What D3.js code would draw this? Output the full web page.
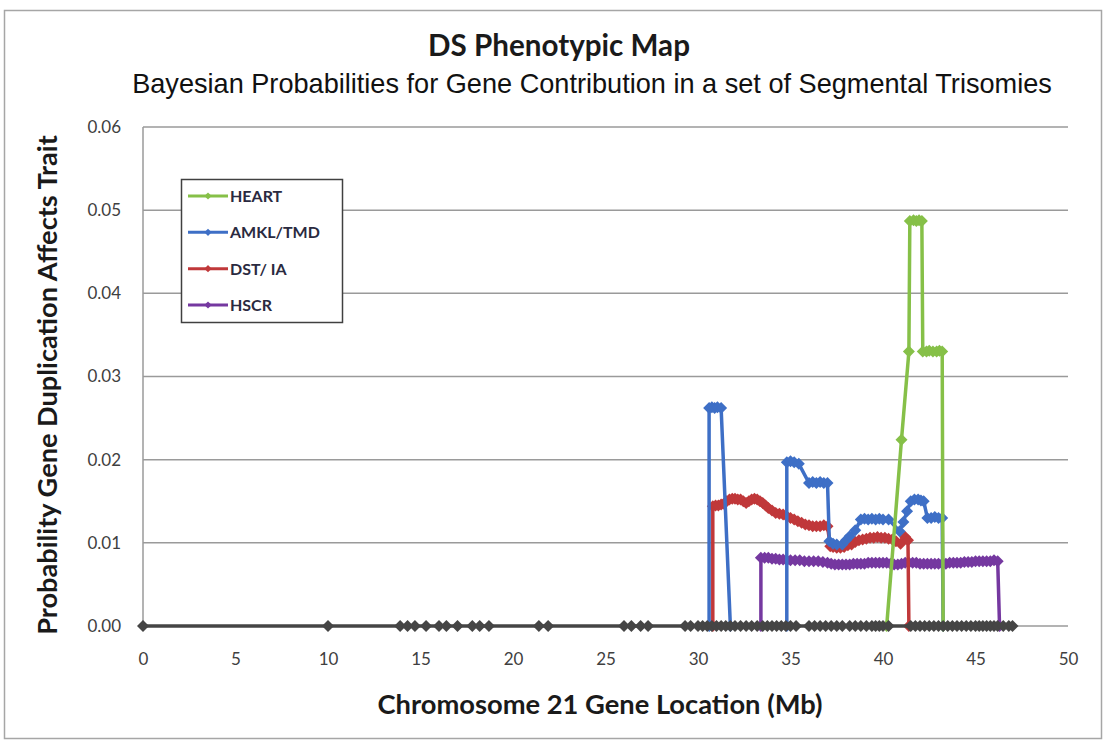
<!DOCTYPE html>
<html>
<head>
<meta charset="utf-8">
<script src="https://cdn.jsdelivr.net/npm/d3@7"></script>
<style>
  html, body { margin: 0; padding: 0; background: #fff; }
  svg { display: block; }
</style>
</head>
<body>
<svg id="chart" width="1103" height="742"></svg>
<script>
// ---------- DATA ----------
const xTicks = [0, 5, 10, 15, 20, 25, 30, 35, 40, 45, 50];
const yTicks = [0, 0.01, 0.02, 0.03, 0.04, 0.05, 0.06];
const seriesNames = ["HEART", "AMKL/TMD", "DST/ IA", "HSCR"];

const heartX = [40.2, 41.0, 41.4, 41.45, 41.65, 41.8, 41.95, 42.1, 42.15, 42.35, 42.5, 42.7, 42.9, 43.05, 43.2, 43.25];
const heartY = [0, 0.0224, 0.033, 0.0487, 0.0488, 0.0487, 0.0488, 0.0487, 0.033, 0.033, 0.0331, 0.033, 0.033, 0.0331, 0.033, 0];

const amklX = [30.6, 30.6, 30.75, 30.9, 31.05, 31.25, 31.75, 34.8, 34.8, 35.0, 35.2, 35.45, 36.0, 36.2, 36.4, 36.6, 36.8, 37.0, 37.1, 37.3, 37.5, 37.8, 38.0, 38.2, 38.5, 38.8, 39.0, 39.2, 39.4, 39.6, 39.8, 40.0, 40.3, 40.9, 41.1, 41.3, 41.5, 41.7, 41.9, 42.05, 42.2, 42.4, 42.6, 42.8, 43.0, 43.2, 43.25];
const amklY = [0, 0.0262, 0.0263, 0.0262, 0.0263, 0.0262, 0, 0, 0.0197, 0.0198, 0.0197, 0.0195, 0.0172, 0.0173, 0.0172, 0.0173, 0.0172, 0.0172, 0.0102, 0.0099, 0.0098, 0.0098, 0.0103, 0.0108, 0.0115, 0.0128, 0.0129, 0.0128, 0.0129, 0.0128, 0.0129, 0.0128, 0.0128, 0.0114, 0.0125, 0.0138, 0.015, 0.0152, 0.0152, 0.0151, 0.015, 0.013, 0.013, 0.0131, 0.013, 0.013, 0];

const dstX = [30.8, 30.8, 30.95, 31.1, 31.25, 31.4, 31.55, 31.7, 31.85, 32.0, 32.15, 32.3, 32.45, 32.6, 32.75, 32.9, 33.05, 33.2, 33.35, 33.5, 33.65, 33.8, 34.0, 34.2, 34.4, 34.6, 34.8, 35.0, 35.2, 35.4, 35.6, 35.8, 36.0, 36.2, 36.4, 36.6, 36.8, 37.0, 37.15, 37.3, 37.5, 37.7, 37.9, 38.1, 38.3, 38.5, 38.7, 38.9, 39.1, 39.3, 39.5, 39.7, 39.9, 40.1, 40.3, 40.5, 40.7, 40.95, 41.2, 41.35, 41.4];
const dstY = [0, 0.0144, 0.0145, 0.0145, 0.0146, 0.0147, 0.015, 0.0152, 0.0153, 0.0153, 0.0152, 0.0152, 0.015, 0.0148, 0.015, 0.0152, 0.0153, 0.0152, 0.015, 0.0148, 0.0145, 0.0142, 0.0139, 0.0136, 0.0135, 0.0134, 0.0132, 0.013, 0.0128, 0.0126, 0.0124, 0.0122, 0.0121, 0.012, 0.012, 0.012, 0.0121, 0.012, 0.0096, 0.0095, 0.0094, 0.0094, 0.0095, 0.0097, 0.0098, 0.0101, 0.0103, 0.0104, 0.0105, 0.0106, 0.0106, 0.0107, 0.0106, 0.0106, 0.0105, 0.0104, 0.0102, 0.0099, 0.0107, 0.0103, 0];

const hscrX = [33.4, 33.4, 33.6, 33.8, 34.0, 34.2, 34.4, 34.6, 34.8, 35.0, 35.25, 35.5, 35.75, 36.0, 36.25, 36.5, 36.75, 37.0, 37.2, 37.4, 37.6, 37.8, 38.0, 38.2, 38.4, 38.6, 38.8, 39.0, 39.2, 39.4, 39.6, 39.8, 40.0, 40.2, 40.4, 40.6, 40.8, 41.0, 41.2, 41.4, 41.6, 41.8, 42.0, 42.2, 42.4, 42.6, 42.8, 43.0, 43.2, 43.4, 43.6, 43.8, 44.0, 44.2, 44.4, 44.6, 44.8, 45.0, 45.2, 45.4, 45.6, 45.8, 46.0, 46.2, 46.3];
const hscrY = [0, 0.0082, 0.0082, 0.0082, 0.0081, 0.0081, 0.008, 0.008, 0.0079, 0.0079, 0.0079, 0.0079, 0.0078, 0.0078, 0.0078, 0.0078, 0.0077, 0.0076, 0.0075, 0.0074, 0.0074, 0.0074, 0.0074, 0.0074, 0.0075, 0.0075, 0.0075, 0.0075, 0.0076, 0.0076, 0.0076, 0.0076, 0.0076, 0.0076, 0.0075, 0.0074, 0.0074, 0.0075, 0.0076, 0.0076, 0.0076, 0.0076, 0.0075, 0.0075, 0.0075, 0.0075, 0.0075, 0.0075, 0.0075, 0.0075, 0.0076, 0.0076, 0.0076, 0.0076, 0.0077, 0.0077, 0.0077, 0.0078, 0.0078, 0.0078, 0.0078, 0.0078, 0.0079, 0.0078, 0];

// genes with no contribution (baseline series)
const baseX = [0, 10, 13.9, 14.3, 14.7, 15.3, 16.0, 16.4, 17.0, 17.8, 18.2, 18.7, 21.4, 21.9, 26.0, 26.4, 26.9, 27.3, 29.3, 29.6, 30.0, 30.25, 30.5, 30.75, 31.0, 31.25, 31.5, 31.75, 32.0, 32.3, 32.6, 32.9, 33.2, 33.5, 33.75, 34.0, 34.25, 34.5, 34.75, 35.0, 35.3, 36.0, 36.3, 36.6, 36.9, 37.2, 37.5, 37.8, 38.2, 38.5, 38.8, 39.1, 39.4, 39.6, 39.8, 40.0, 40.3, 41.5, 41.75, 42.0, 42.25, 42.5, 42.75, 43.0, 43.25, 43.5, 43.75, 44.0, 44.25, 44.5, 44.75, 45.0, 45.2, 45.4, 45.6, 45.8, 46.0, 46.2, 46.5, 46.8, 47.0];
const baseY = baseX.map(() => 0);

const colors = { heart: "#86c048", amkl: "#3e6fc6", dst: "#c0383a", hscr: "#7538a0", base: "#454545" };

// ---------- LAYOUT ----------
const svg = d3.select("#chart");
const M = { left: 143, right: 1068, top: 127, bottom: 626 };
const x = d3.scaleLinear().domain([0, 50]).range([M.left, M.right]);
const y = d3.scaleLinear().domain([0, 0.06]).range([M.bottom, M.top]);

// outer frame
svg.append("rect").attr("x", 4.5).attr("y", 10.5).attr("width", 1097).attr("height", 728)
  .attr("fill", "#fff").attr("stroke", "#a6a6a6").attr("stroke-width", 1.5);

// gridlines
svg.append("g").selectAll("line").data(yTicks).join("line")
  .attr("x1", M.left).attr("x2", M.right)
  .attr("y1", d => y(d)).attr("y2", d => y(d))
  .attr("stroke", "#9a9a9a").attr("stroke-width", 1.5);

// y axis line
svg.append("line").attr("x1", M.left).attr("x2", M.left).attr("y1", M.top).attr("y2", M.bottom)
  .attr("stroke", "#9a9a9a").attr("stroke-width", 1.5);

// y axis labels
const yAxis = d3.axisLeft(y).tickValues(yTicks).tickFormat(d3.format(".2f")).tickSize(0).tickPadding(22);
const gy = svg.append("g").attr("transform", `translate(${M.left},0)`).call(yAxis);
gy.select(".domain").remove();
gy.selectAll("text").attr("font-family", "Lato, 'Open Sans', sans-serif").attr("font-size", 17).attr("fill", "#404040");

// x axis labels
const xAxis = d3.axisBottom(x).tickValues(xTicks).tickFormat(d3.format("d")).tickSize(0).tickPadding(27);
const gx = svg.append("g").attr("transform", `translate(0,${M.bottom})`).call(xAxis);
gx.select(".domain").remove();
gx.selectAll("text").attr("font-family", "Lato, 'Open Sans', sans-serif").attr("font-size", 17).attr("fill", "#404040");

// ---------- SERIES ----------
const diamond = "M0,-6L6,0L0,6L-6,0Z";
function drawSeries(xs, ys, color, w) {
  const pts = xs.map((v, i) => [v, ys[i]]);
  const g = svg.append("g");
  g.append("path").datum(pts)
    .attr("d", d3.line().x(d => x(d[0])).y(d => y(d[1])))
    .attr("fill", "none").attr("stroke", color).attr("stroke-width", w).attr("stroke-linejoin", "round");
  g.selectAll("path.m").data(pts).join("path").attr("class", "m")
    .attr("d", diamond)
    .attr("transform", d => `translate(${x(d[0])},${y(d[1])})`)
    .attr("fill", color);
}
drawSeries(hscrX, hscrY, colors.hscr, 3.5);
drawSeries(dstX, dstY, colors.dst, 3.5);
drawSeries(amklX, amklY, colors.amkl, 3.5);
drawSeries(heartX, heartY, colors.heart, 3.5);
drawSeries(baseX, baseY, colors.base, 3.5);

// ---------- TEXT ----------
function fit(sel, target) {
  const w = sel.node().getComputedTextLength();
  const fs = parseFloat(sel.attr("font-size"));
  sel.attr("font-size", fs * target / w);
}
const title = svg.append("text").attr("x", 559).attr("y", 56).attr("text-anchor", "middle")
  .attr("font-family", "Lato, sans-serif").attr("font-weight", "bold").attr("font-size", 24)
  .attr("fill", "#1a1a1a").text("DS Phenotypic Map");
fit(title, 262);
const sub = svg.append("text").attr("x", 592).attr("y", 93).attr("text-anchor", "middle")
  .attr("font-family", "'Liberation Sans', Arial, sans-serif").attr("font-size", 21)
  .attr("fill", "#111").text("Bayesian Probabilities for Gene Contribution in a set of Segmental Trisomies");
fit(sub, 920);

const yt = svg.append("text").attr("transform", "translate(57,385) rotate(-90)").attr("text-anchor", "middle")
  .attr("font-family", "Lato, sans-serif").attr("font-weight", "bold").attr("font-size", 20)
  .attr("fill", "#1a1a1a").text("Probability  Gene Duplication  Affects Trait");
fit(yt, 500);
const xt = svg.append("text").attr("x", 600).attr("y", 714).attr("text-anchor", "middle")
  .attr("font-family", "Lato, sans-serif").attr("font-weight", "bold").attr("font-size", 22)
  .attr("fill", "#1a1a1a").text("Chromosome 21 Gene Location (Mb)");
fit(xt, 445);

// ---------- LEGEND ----------
const leg = svg.append("g");
leg.append("rect").attr("x", 181.5).attr("y", 179.5).attr("width", 161).attr("height", 143)
  .attr("fill", "#fff").attr("stroke", "#404040").attr("stroke-width", 1.5);
const legColors = [colors.heart, colors.amkl, colors.dst, colors.hscr];
const legY = d3.scalePoint().domain(seriesNames).range([196, 305]);
seriesNames.forEach((name, i) => {
  const yy = legY(name);
  leg.append("line").attr("x1", 188).attr("x2", 228).attr("y1", yy).attr("y2", yy)
    .attr("stroke", legColors[i]).attr("stroke-width", 3);
  leg.append("path").attr("d", diamond).attr("transform", `translate(208,${yy}) scale(0.6)`).attr("fill", legColors[i]);
  leg.append("text").attr("x", 230).attr("y", yy + 6)
    .attr("font-family", "Lato, sans-serif").attr("font-weight", "bold").attr("font-size", 16)
    .attr("fill", "#2a2a40").text(name);
});
</script>
</body>
</html>
